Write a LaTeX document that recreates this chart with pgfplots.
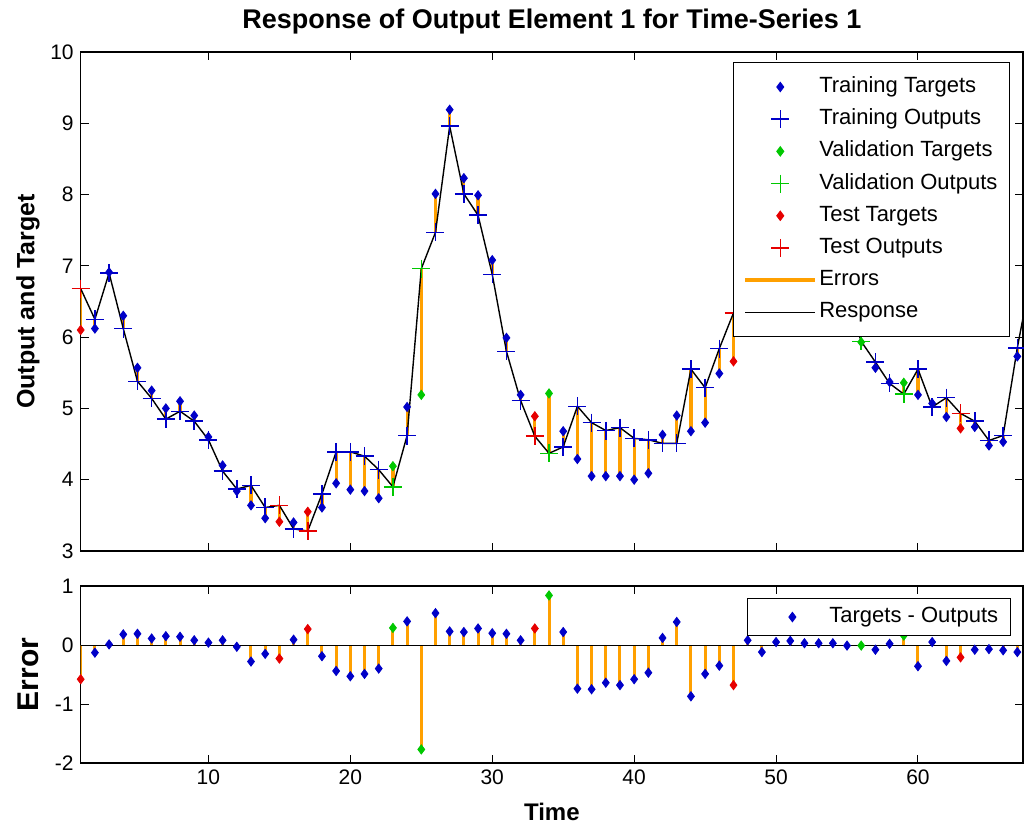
\documentclass[border=0pt]{standalone}
\usepackage{fontspec}
\setmainfont{Liberation Sans}
\usepackage{pgfplots}
\usepackage{pgfplotstable}
\pgfplotsset{compat=1.18}

\definecolor{tblue}{RGB}{0,0,200}
\definecolor{tgreen}{RGB}{0,200,0}
\definecolor{tred}{RGB}{230,0,0}
\definecolor{eorange}{RGB}{255,160,0}

% t, target, output, error (target-output), set: 0 training, 1 validation, 2 test
\pgfplotstableread{
t tgt out err cat
1 6.10 6.68 -0.58 2
2 6.12 6.25 -0.13 0
3 6.91 6.90 0.01 0
4 6.30 6.12 0.18 0
5 5.57 5.38 0.19 0
6 5.25 5.14 0.11 0
7 5.00 4.85 0.15 0
8 5.10 4.96 0.14 0
9 4.90 4.82 0.08 0
10 4.60 4.56 0.04 0
11 4.20 4.12 0.08 0
12 3.84 3.87 -0.03 0
13 3.64 3.92 -0.28 0
14 3.46 3.61 -0.15 0
15 3.41 3.64 -0.23 2
16 3.40 3.31 0.09 0
17 3.55 3.28 0.27 2
18 3.61 3.80 -0.19 0
19 3.95 4.39 -0.44 0
20 3.86 4.39 -0.53 0
21 3.84 4.33 -0.49 0
22 3.74 4.14 -0.40 0
23 4.19 3.90 0.29 1
24 5.02 4.62 0.40 0
25 5.19 6.96 -1.77 1
26 8.01 7.47 0.54 0
27 9.19 8.96 0.23 0
28 8.23 8.01 0.22 0
29 7.99 7.71 0.28 0
30 7.08 6.88 0.20 0
31 5.99 5.80 0.19 0
32 5.19 5.11 0.08 0
33 4.89 4.61 0.28 2
34 5.21 4.37 0.84 1
35 4.68 4.46 0.22 0
36 4.29 5.03 -0.74 0
37 4.05 4.80 -0.75 0
38 4.05 4.69 -0.64 0
39 4.05 4.73 -0.68 0
40 4.00 4.58 -0.58 0
41 4.09 4.56 -0.47 0
42 4.63 4.51 0.12 0
43 4.90 4.51 0.39 0
44 4.68 5.55 -0.87 0
45 4.80 5.29 -0.49 0
46 5.49 5.84 -0.35 0
47 5.66 6.34 -0.68 2
48 6.98 6.90 0.08 0
49 7.08 7.20 -0.12 0
50 7.35 7.30 0.05 0
51 7.27 7.20 0.07 0
52 7.03 7.00 0.03 0
53 6.93 6.90 0.03 0
54 6.78 6.75 0.03 0
55 6.54 6.55 -0.01 0
56 5.93 5.94 -0.01 1
57 5.57 5.65 -0.08 0
58 5.37 5.35 0.02 0
59 5.36 5.20 0.16 1
60 5.19 5.55 -0.36 0
61 5.07 5.02 0.05 0
62 4.88 5.15 -0.27 0
63 4.72 4.93 -0.21 2
64 4.74 4.82 -0.08 0
65 4.48 4.55 -0.07 0
66 4.53 4.62 -0.09 0
67 5.73 5.85 -0.12 0
68 6.90 6.90 0.00 0
}\resp

\pgfplotsset{
  matlab/.style={
    scale only axis, xmin=1, xmax=67.4,
    axis line style={line width=0.6pt},
    tick style={black, line width=0.5pt}, major tick length=4pt,
    ticklabel style={font=\fontsize{10.5}{12}\selectfont},
    /pgf/number format/assume math mode=true,
    xtick={10,20,...,60},
    legend cell align=left,
    legend style={draw=black, line width=0.5pt, fill=white,
      font=\fontsize{11}{13}\selectfont, inner xsep=5pt, inner ysep=6pt,
      row sep=3.6pt, anchor=north west,
      nodes={inner sep=1pt, text height=8pt, text depth=2.5pt}},
  },
  incat/.style={x filter/.expression={\thisrow{cat}==#1 ? x : nan}},
  tmark/.style={only marks, mark=diamond*, mark size=2.3pt, color=#1},
  omark/.style={only marks, mark=+, mark size=4.5pt, line width=0.75pt, color=#1},
  legmark/.style={legend image code/.code={%
    \path[draw=none, fill=none] (0pt,0pt) -- (35pt,0pt);
    \draw[##1, /tikz/only marks] plot coordinates {(17.5pt,0pt)};}},
  legline/.style={legend image code/.code={%
    \draw[##1] (0pt,0pt) -- (35pt,0pt);}},
}

\begin{document}
\begin{tikzpicture}
\path[use as bounding box] (0,0) rectangle (512pt,-414.5pt);

\begin{axis}[matlab, at={(40.35pt,-26pt)}, anchor=north west,
  width=471.15pt, height=249.5pt,
  ymin=3, ymax=10, ytick={3,4,...,10}, xticklabels={},
  ylabel={Output and Target},
  every axis y label/.style={at={(axis description cs:-0.0559,0.5)}, rotate=90, anchor=center,
    font=\fontsize{12.5}{14}\selectfont\bfseries},
  title={Response of Output Element 1 for Time-Series 1},
  every axis title/.style={at={(axis description cs:0.5,1)}, anchor=center, yshift=15pt,
    font=\fontsize{13.5}{15}\selectfont\bfseries},
  legend style={at={(0.692,0.98)}}]
  \addplot[forget plot, eorange, line width=1.6pt, quiver={u=0, v=\thisrow{err}}] table[x=t, y=out] {\resp};
  \addplot[forget plot, black, line width=0.7pt] table[x=t, y=out] {\resp};
  \addplot[forget plot, tmark=tblue, incat=0] table[x=t, y=tgt] {\resp};
  \addplot[forget plot, omark=tblue, incat=0] table[x=t, y=out] {\resp};
  \addplot[forget plot, tmark=tgreen, incat=1] table[x=t, y=tgt] {\resp};
  \addplot[forget plot, omark=tgreen, incat=1] table[x=t, y=out] {\resp};
  \addplot[forget plot, tmark=tred, incat=2] table[x=t, y=tgt] {\resp};
  \addplot[forget plot, omark=tred, incat=2] table[x=t, y=out] {\resp};

  \addlegendimage{tmark=tblue, legmark}\addlegendentry{Training Targets}
  \addlegendimage{omark=tblue, legmark}\addlegendentry{Training Outputs}
  \addlegendimage{tmark=tgreen, legmark}\addlegendentry{Validation Targets}
  \addlegendimage{omark=tgreen, legmark}\addlegendentry{Validation Outputs}
  \addlegendimage{tmark=tred, legmark}\addlegendentry{Test Targets}
  \addlegendimage{omark=tred, legmark}\addlegendentry{Test Outputs}
  \addlegendimage{eorange, line width=2pt, legline}\addlegendentry{Errors}
  \addlegendimage{black, line width=0.7pt, legline}\addlegendentry{Response}
\end{axis}

\begin{axis}[matlab, at={(40.35pt,-293pt)}, anchor=north west,
  width=471.15pt, height=88.5pt,
  ymin=-2, ymax=1, ytick={-2,-1,0,1},
  xlabel={Time}, ylabel={Error},
  every axis y label/.style={at={(axis description cs:-0.0559,0.5)}, rotate=90, anchor=center,
    font=\fontsize{15}{17}\selectfont\bfseries},
  every axis x label/.style={at={(axis description cs:0.5,0)}, anchor=center, yshift=-24.5pt,
    font=\fontsize{12}{14}\selectfont\bfseries},
  legend style={at={(0.707,0.932)}, inner ysep=3pt}]
  \addplot[forget plot, eorange, line width=1.5pt, ycomb] table[x=t, y=err] {\resp};
  \addplot[forget plot, black, line width=0.5pt] coordinates {(1,0) (68,0)};
  \addplot[forget plot, tmark=tblue, incat=0] table[x=t, y=err] {\resp};
  \addplot[forget plot, tmark=tgreen, incat=1] table[x=t, y=err] {\resp};
  \addplot[forget plot, tmark=tred, incat=2] table[x=t, y=err] {\resp};
  \addlegendimage{tmark=tblue, legmark}\addlegendentry{Targets - Outputs}
\end{axis}
\end{tikzpicture}
\end{document}
